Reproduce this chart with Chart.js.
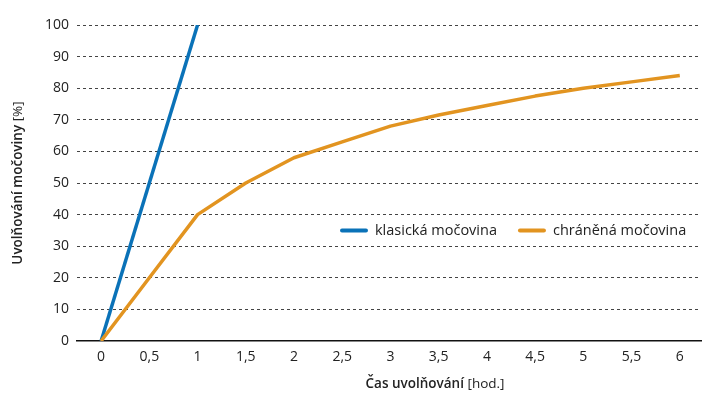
<!DOCTYPE html>
<html>
<head>
<meta charset="utf-8">
<script src="https://cdn.jsdelivr.net/npm/chart.js@4"></script>
<style>
  html,body{margin:0;padding:0;background:#fff;}
  #wrap{width:713px;height:398px;}
</style>
</head>
<body>
<div id="wrap"><canvas id="c" width="713" height="398"></canvas></div>
<script>
// data
const casHod = [0, 0.5, 1, 1.5, 2, 2.5, 3, 3.5, 4, 4.5, 5, 5.5, 6];
const klasicka = [0, 50, 100];
const chranena = [0, 20, 40, 50, 58, 63, 68, 71.5, 74.5, 77.5, 80, 82, 84];
const xTicks = [0, 0.5, 1, 1.5, 2, 2.5, 3, 3.5, 4, 4.5, 5, 5.5, 6];
const nazvy = ["klasická močovina", "chráněná močovina"];

const FONT = "'Open Sans', sans-serif";
const MODRA = "#0a72b8";
const ORANZ = "#e29420";

const pts = (xs, ys) => ys.map((v, i) => ({x: xs[i], y: v}));

// legend + axis titles drawn on the canvas (mixed weights)
const popisky = {
  id: "popisky",
  afterDraw(chart) {
    const ctx = chart.ctx;
    const area = chart.chartArea;
    ctx.save();
    ctx.fillStyle = "#222";
    ctx.textBaseline = "middle";

    // legend inside the plot
    const ly = chart.scales.y.getPixelForValue(35);
    let lx = 340;
    [MODRA, ORANZ].forEach((col, i) => {
      ctx.strokeStyle = col;
      ctx.lineWidth = 4;
      ctx.lineCap = "round";
      ctx.beginPath();
      ctx.moveTo(lx + 2, ly);
      ctx.lineTo(lx + 26, ly);
      ctx.stroke();
      ctx.font = "14.5px " + FONT;
      ctx.textAlign = "left";
      ctx.fillText(nazvy[i], lx + 35, ly);
      lx += 35 + ctx.measureText(nazvy[i]).width + 21;
    });

    const dvojdil = (a, b, x, y) => {
      ctx.font = "600 13.5px " + FONT;
      const wa = ctx.measureText(a).width;
      ctx.font = "13.5px " + FONT;
      const wb = ctx.measureText(b).width;
      let start = x - (wa + wb) / 2;
      ctx.textAlign = "left";
      ctx.font = "600 13.5px " + FONT;
      ctx.fillText(a, start, y);
      ctx.font = "13.5px " + FONT;
      ctx.fillText(b, start + wa, y);
    };
    // x title (sits right of centre in the original)
    dvojdil("Čas uvolňování ", "[hod.]", 435, 384);

    // y title, rotated
    ctx.translate(18, (area.top + area.bottom) / 2);
    ctx.rotate(-Math.PI / 2);
    dvojdil("Uvolňování močoviny ", "[%]", 0, 0);
    ctx.restore();
  }
};

new Chart(document.getElementById("c"), {
  type: "line",
  data: {
    datasets: [
      {
        label: nazvy[1],
        data: pts(casHod, chranena),
        borderColor: ORANZ,
        borderWidth: 3.5,
        pointRadius: 0,
        borderJoinStyle: "round",
        tension: 0
      },
      {
        label: nazvy[0],
        data: pts(casHod, klasicka),
        borderColor: MODRA,
        borderWidth: 3.5,
        pointRadius: 0,
        borderJoinStyle: "round",
        tension: 0
      }
    ]
  },
  options: {
    responsive: false,
    animation: false,
    layout: {padding: {top: 25, right: 12, left: 0, bottom: 0}},
    plugins: {legend: {display: false}, tooltip: {enabled: false}},
    scales: {
      x: {
        type: "linear",
        min: -0.25,
        max: 6.22,
        afterBuildTicks: s => { s.ticks = xTicks.map(v => ({value: v})); },
        afterFit: s => { s.height = 57; },
        grid: {display: false, drawTicks: false},
        border: {display: true, color: "#111", width: 1.5},
        ticks: {
          padding: 8,
          color: "#222",
          font: {family: FONT, size: 14},
          callback: v => String(v).replace(".", ",")
        }
      },
      y: {
        min: 0,
        max: 100,
        afterFit: s => { s.width = 77; },
        ticks: {
          stepSize: 10,
          padding: 8,
          color: "#222",
          font: {family: FONT, size: 14}
        },
        grid: {
          drawTicks: false,
          lineWidth: 1,
          color: c => c.tick.value === 0 ? "rgba(0,0,0,0)" : "#444"
        },
        border: {display: false, dash: [3, 3]}
      }
    }
  },
  plugins: [popisky]
});
</script>
</body>
</html>
